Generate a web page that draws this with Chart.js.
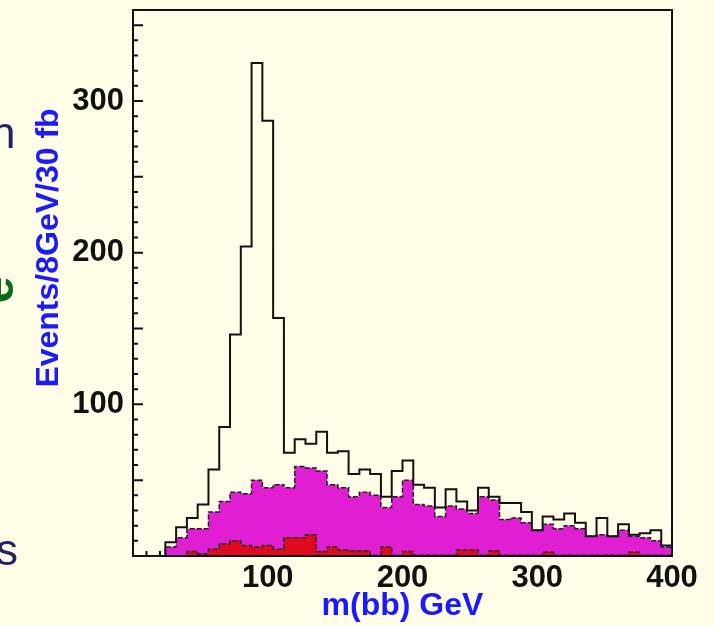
<!DOCTYPE html>
<html>
<head>
  <title>m(bb) spectrum</title>
  <script src="https://cdn.jsdelivr.net/npm/chart.js"></script>
  <style>
    body {
      margin: 0;
      background: #fffde7;
      font-family: "Liberation Sans", Arial, sans-serif;
    }
    #wrap {
      position: relative;
      width: 714px;
      height: 626px;
      overflow: hidden;
    }
    .cut {
      position: absolute;
      line-height: 1;
      white-space: nowrap;
    }
  </style>
</head>
<body>
  <div id="wrap">
    <canvas id="massChart" width="714" height="626"></canvas>
    <!-- bits of neighbouring labels that are cut off at the left edge -->
    <span class="cut" style="left:-9px; top:111px; font-size:44px; color:#23236b;">h</span>
    <span class="cut" style="left:-16px; top:266px; font-size:48px; font-weight:bold; color:#0b6e14; transform:rotate(-90deg);">e</span>
    <span class="cut" style="left:-4px; top:528px; font-size:44px; color:#23236b;">s</span>
  </div>

  <script>
    // 8 GeV bins from 0 to 400 GeV
    const BIN_WIDTH = 8;

    // signal + background (black outline)
    const totalCounts = [
      0, 0, 0, 9, 19, 25, 34, 57, 85, 146,
      204, 325, 287, 157, 68, 77, 74, 82, 68, 69,
      54, 57, 54, 39, 56, 63, 47, 45, 32, 44,
      36, 30, 45, 39, 35, 35, 29, 17, 26, 24,
      28, 22, 13, 25, 13, 21, 14, 15, 17, 7
    ];

    // background (magenta)
    const bkgCounts = [
      0, 0, 0, 6, 12, 18, 18, 29, 36, 42,
      41, 50, 45, 47, 45, 59, 58, 56, 47, 45,
      39, 42, 40, 32, 39, 50, 34, 33, 26, 33,
      31, 28, 39, 37, 24, 25, 22, 17, 21, 18,
      20, 18, 13, 14, 13, 17, 13, 12, 10, 6
    ];

    // second background (red)
    const redCounts = [
      0, 0, 0, 0, 0, 3, 1.5, 4.5, 8, 10,
      7, 6, 7, 4.5, 12, 12, 14, 3, 6, 4,
      3.5, 3.5, 0.5, 6, 0.5, 3, 0.5, 0.5, 0.5, 0.5,
      4, 4, 0.5, 3.5, 0.5, 0.5, 0.5, 0.5, 2.5, 0.5,
      0.5, 0.5, 0.5, 0.5, 0.5, 0.5, 2.5, 0.5, 0.5, 0.5
    ];

    const xTickLabels = [100, 200, 300, 400];
    const yTickLabels = [100, 200, 300];

    const X_MAX = 400;
    const Y_MAX = 360;

    const BG = '#fffde7';
    const TITLE_BLUE = '#1a1aff';
    const LABEL_FONT = { family: '"Liberation Sans", Arial, sans-serif', size: 31, weight: 'bold' };

    // histogram as step points at the bin low edges, plus closing edge
    function toSteps(values) {
      const pts = values.map((v, i) => ({ x: i * BIN_WIDTH, y: v }));
      pts.push({ x: values.length * BIN_WIDTH, y: values[values.length - 1] });
      return pts;
    }

    const frameAndTicks = {
      id: 'frameAndTicks',
      beforeDraw(chart) {
        const ctx = chart.ctx;
        ctx.save();
        ctx.fillStyle = BG;
        ctx.fillRect(0, 0, chart.width, chart.height);
        ctx.restore();
      },
      beforeDatasetsDraw(chart) {
        const { ctx, chartArea: a, scales } = chart;
        ctx.save();
        ctx.strokeStyle = '#111';
        ctx.lineWidth = 2;
        ctx.beginPath();
        for (let v = 10; v < Y_MAX; v += 10) {
          const y = scales.y.getPixelForValue(v);
          const len = v % 50 === 0 ? 10 : 5;
          ctx.moveTo(a.left, y);
          ctx.lineTo(a.left + len, y);
        }
        for (let v = 10; v < X_MAX; v += 10) {
          const x = scales.x.getPixelForValue(v);
          const len = v % 50 === 0 ? 10 : 5;
          ctx.moveTo(x, a.bottom);
          ctx.lineTo(x, a.bottom - len);
        }
        ctx.stroke();
        ctx.restore();
      },
      afterDatasetsDraw(chart) {
        const { ctx, chartArea: a } = chart;
        ctx.save();
        ctx.strokeStyle = '#111';
        ctx.lineWidth = 2;
        ctx.strokeRect(a.left, a.top, a.right - a.left, a.bottom - a.top);

        // rotated y title
        ctx.translate(58, 248);
        ctx.rotate(-Math.PI / 2);
        ctx.fillStyle = TITLE_BLUE;
        ctx.font = 'bold 32px "Liberation Sans", Arial, sans-serif';
        ctx.textAlign = 'center';
        ctx.textBaseline = 'alphabetic';
        ctx.fillText('Events/8GeV/30 fb', 0, 0);
        ctx.restore();
      }
    };

    new Chart(document.getElementById('massChart').getContext('2d'), {
      type: 'line',
      data: {
        datasets: [
          {
            label: 'signal + background',
            data: toSteps(totalCounts),
            stepped: 'before',
            borderColor: '#111',
            borderWidth: 2,
            pointRadius: 0,
            fill: false
          },
          {
            label: 'red background',
            data: toSteps(redCounts),
            stepped: 'before',
            borderColor: '#222',
            borderWidth: 1.5,
            borderDash: [5, 2],
            backgroundColor: '#e00a1e',
            pointRadius: 0,
            fill: 'origin'
          },
          {
            label: 'background',
            data: toSteps(bkgCounts),
            stepped: 'before',
            borderColor: '#222',
            borderWidth: 1.5,
            borderDash: [5, 2],
            backgroundColor: '#e01ed2',
            pointRadius: 0,
            fill: 'origin'
          }
        ]
      },
      options: {
        responsive: false,
        animation: false,
        layout: { padding: { top: 10, right: 42, left: 0, bottom: 0 } },
        plugins: {
          legend: { display: false },
          tooltip: { enabled: false }
        },
        scales: {
          x: {
            type: 'linear',
            min: 0,
            max: X_MAX,
            afterBuildTicks: s => { s.ticks = xTickLabels.map(v => ({ value: v })); },
            afterFit: s => { s.height = 70; s.paddingLeft = 0; s.paddingRight = 0; },
            grid: { display: false, drawTicks: false },
            border: { display: false },
            ticks: { color: '#111', font: LABEL_FONT, padding: 4, maxRotation: 0, autoSkip: false },
            title: {
              display: true,
              text: 'm(bb) GeV',
              color: TITLE_BLUE,
              font: { family: '"Liberation Sans", Arial, sans-serif', size: 32, weight: 'bold' },
              padding: { top: 0, bottom: 1 }
            }
          },
          y: {
            min: 0,
            max: Y_MAX,
            afterBuildTicks: s => { s.ticks = yTickLabels.map(v => ({ value: v })); },
            afterFit: s => { s.width = 133; s.paddingTop = 0; s.paddingBottom = 0; },
            grid: { display: false, drawTicks: false },
            border: { display: false },
            ticks: { color: '#111', font: LABEL_FONT, padding: 9 }
          }
        }
      },
      plugins: [frameAndTicks]
    });
  </script>
</body>
</html>
